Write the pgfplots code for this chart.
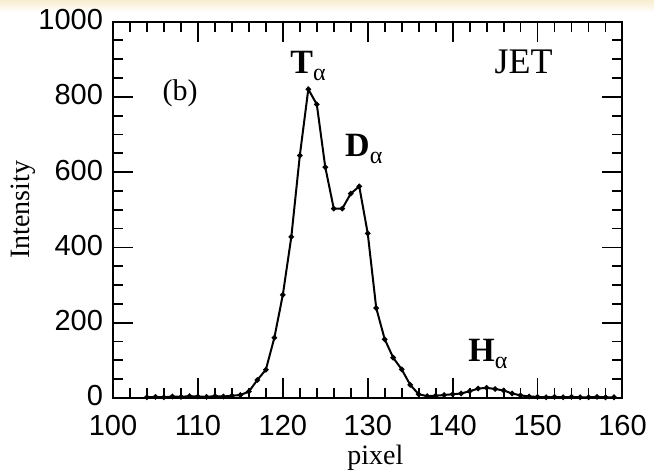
\documentclass[border=0pt]{standalone}
\usepackage{pgfplots}
\pgfplotsset{compat=1.18}
\usepackage{fontspec}
\setmainfont{Liberation Serif}
\newfontfamily\sansf{Liberation Sans}

\definecolor{cream}{RGB}{247,236,205}

\begin{document}
\begin{tikzpicture}
% page frame: 1 px of the reference = 0.5pt
\useasboundingbox (-56.5pt,-37.5pt) rectangle (270.5pt,199pt);
\fill[white] (-56.5pt,-37.5pt) rectangle (270.5pt,199pt);
\shade[top color=cream, bottom color=white] (-56.5pt,193pt) rectangle (270.5pt,199pt);

\begin{axis}[
at={(0,0)}, anchor=south west,
scale only axis,
width=254.75pt, height=188.25pt,
xmin=100, xmax=160,
ymin=0, ymax=1000,
xtick={100,110,...,160},
ytick={0,200,...,1000},
minor x tick num=4,
minor y tick num=3,
tick align=inside,
tick pos=both,
major tick length=10pt,
minor tick length=5pt,
axis line style={line width=1pt},
every tick/.style={black, line width=0.9pt},
ticklabel style={font=\sansf\fontsize{14.5}{14.5}\selectfont},
/pgf/number format/assume math mode=true,
/pgf/number format/1000 sep={},
xticklabel style={yshift=-5pt},
yticklabel style={xshift=-1.5pt, yshift=1pt},
xlabel={pixel},
ylabel={Intensity},
label style={font=\fontsize{14}{14}\selectfont},
xlabel style={at={(axis description cs:0.515,-0.16)}, anchor=center},
ylabel style={at={(axis description cs:-0.177,0.5)}, anchor=center},
clip=false,
]
\addplot [black, line width=1pt, mark=*, mark size=0.8pt]
table {%
104 2
105 3
106 2
107 4
108 3
109 5
110 4
111 3
112 5
113 4
114 6
115 8
116 17
117 48
118 75
119 160
120 274
121 428
122 644
123 820
124 780
125 613
126 503
127 503
128 543
129 562
130 437
131 239
132 156
133 107
134 76
135 35
136 10
137 5
138 6
139 8
140 10
141 12
142 18
143 25
144 27
145 24
146 20
147 12
148 7
149 4
150 3
151 2
152 3
153 2
154 3
155 2
156 2
157 3
158 2
159 2
};
\node[anchor=base west, inner sep=0pt, font=\fontsize{17}{17}\selectfont]
  at (axis cs:120.85,862) {\textbf{T}\raisebox{-0.45ex}{\fontsize{12}{12}\selectfont α}};
\node[anchor=base west, inner sep=0pt, font=\fontsize{17}{17}\selectfont]
  at (axis cs:127.3,641) {\textbf{D}\raisebox{-0.45ex}{\fontsize{12}{12}\selectfont α}};
\node[anchor=base west, inner sep=0pt, font=\fontsize{17}{17}\selectfont]
  at (axis cs:141.8,96) {\textbf{H}\raisebox{-0.45ex}{\fontsize{12}{12}\selectfont α}};
\node[anchor=base west, inner sep=0pt, font=\fontsize{15}{15}\selectfont]
  at (axis cs:105.8,791) {(b)};
\node[anchor=base west, inner sep=0pt, font=\fontsize{18}{18}\selectfont]
  at (axis cs:144.9,862) {JET};
\end{axis}
\end{tikzpicture}
\end{document}
